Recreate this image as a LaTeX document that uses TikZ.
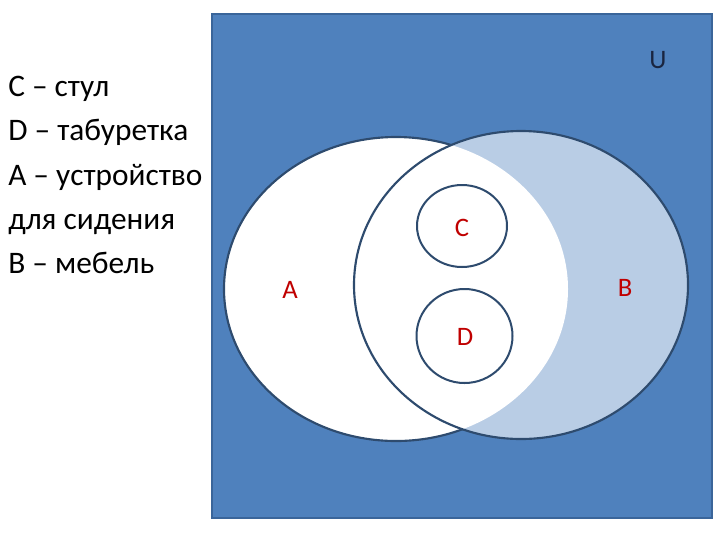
\documentclass[tikz,border=0pt]{standalone}
\usepackage{fontspec}
\setmainfont{Carlito}
\definecolor{ufill}{HTML}{4F81BD}
\definecolor{uline}{HTML}{3A659A}
\definecolor{bfill}{HTML}{B9CDE5}
\definecolor{setline}{HTML}{2E4B6E}
\definecolor{lblred}{HTML}{C00000}
\definecolor{udark}{HTML}{1A2540}
\begin{document}
\begin{tikzpicture}[x=0.75pt,y=-0.75pt,
  legend/.style={anchor=base west,inner sep=0pt,font=\fontsize{23.5}{28}\selectfont},
  setlbl/.style={inner sep=0pt,text=lblred,font=\fontsize{20}{24}\selectfont},
  setborder/.style={draw=setline,line width=1.6pt},
  subborder/.style={draw=setline,line width=1.5pt}]
\useasboundingbox (0,0) rectangle (720,540);
% universe
\draw[fill=ufill,draw=uline,line width=1.2pt] (212,14) rectangle (712,518);
% B filled
\fill[bfill] (521,285) ellipse [x radius=167,y radius=154];
% A filled white
\fill[white] (396,289) ellipse [x radius=172,y radius=152];
% A border outside B
\begin{scope}[even odd rule]
  \clip (212,14) rectangle (712,518) (521,285) ellipse [x radius=167,y radius=154];
  \draw[setborder] (396,289) ellipse [x radius=172,y radius=152];
\end{scope}
% B border
\draw[setborder] (521,285) ellipse [x radius=167,y radius=154];
% C and D
\draw[subborder] (462,226) ellipse [x radius=45,y radius=41];
\draw[subborder] (464.5,336) ellipse [x radius=48,y radius=47];
% labels
\node[setlbl] (lC) at (462,228) {C};
\node[setlbl] (lD) at (465,337) {D};
\node[setlbl] (lA) at (290,290) {A};
\node[setlbl] (lB) at (625,288) {B};
\node[inner sep=0pt,text=udark,font=\fontsize{20}{24}\selectfont] (lU) at (658,60) {U};
% legend
\node[legend] (t1) at (8,96) {C – стул};
\node[legend] (t2) at (8,140) {D – табуретка};
\node[legend] (t3) at (8,185) {A – устройство};
\node[legend] (t4) at (8,229) {для сидения};
\node[legend] (t5) at (8,273) {B – мебель};
\end{tikzpicture}
\end{document}
